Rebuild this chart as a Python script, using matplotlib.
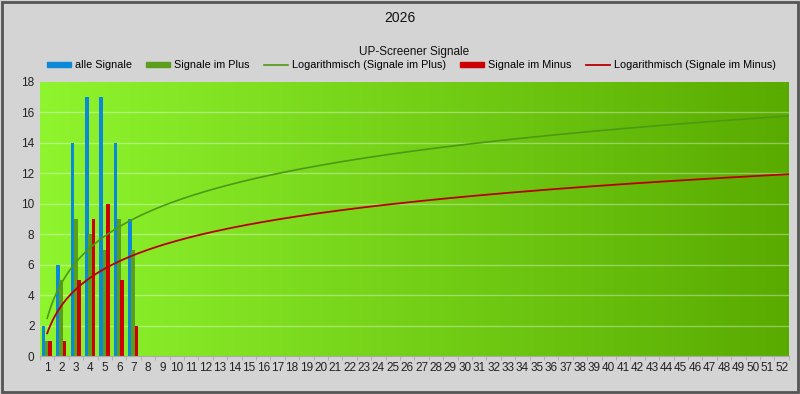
import numpy as np
import matplotlib
matplotlib.use("Agg")
import matplotlib.pyplot as plt
from matplotlib.patches import Rectangle, Patch
from matplotlib.lines import Line2D

# =============================
# Data
# =============================
weeks = np.arange(1, 53)
data_weeks = np.array([1, 2, 3, 4, 5, 6, 7])
alle = [2, 6, 14, 17, 17, 14, 9]
plus = [1, 5, 9, 8, 7, 9, 7]
minus = [1, 1, 5, 9, 10, 5, 2]

title = "2026"
subtitle = "UP-Screener Signale"

c_blue = "#0b88d6"
c_green = "#5a9e1c"
c_red = "#cc0000"
c_green_line = "#4c9a12"
c_red_line = "#b80000"

plt.rcParams['font.family'] = ['Liberation Sans', 'DejaVu Sans']

fig = plt.figure(figsize=(8, 3.94), dpi=100, facecolor="#d4d4d4")
ax = fig.add_axes([0.05, 0.096, 0.936, 0.696])

# gradient background
grad = np.linspace(0, 1, 256)
c0 = np.array([0.56, 0.96, 0.18])
c1 = np.array([0.35, 0.67, 0.0])
img = (c0[None, :] * (1 - grad[:, None]) + c1[None, :] * grad[:, None])[None, :, :]
ax.imshow(img, extent=[0.5, 52.5, 0, 18], aspect="auto", zorder=0)

for yv in range(2, 18, 2):
    ax.axhline(yv, color="white", alpha=0.35, lw=1, zorder=1)

w = 0.26
ax.bar(data_weeks - 0.25, alle, width=w, color=c_blue, zorder=2)
ax.bar(data_weeks - 0.02, plus, width=w, color=c_green, zorder=2)
ax.bar(data_weeks + 0.21, minus, width=w, color=c_red, zorder=2)

# logarithmic trendlines (least squares on ln(x), like Excel)
xs = np.linspace(1, 52.5, 400)
a_p, b_p = np.polyfit(np.log(data_weeks), plus, 1)
a_m, b_m = np.polyfit(np.log(data_weeks), minus, 1)
ax.plot(xs, a_p * np.log(xs) + b_p, color=c_green_line, lw=1.2, zorder=3)
ax.plot(xs, a_m * np.log(xs) + b_m, color=c_red_line, lw=1.3, zorder=3)

ax.set_xlim(0.5, 52.5)
ax.set_ylim(0, 18)
ax.set_yticks(range(0, 19, 2))
ax.set_xticks(weeks)
ax.set_xticklabels([str(k) for k in weeks])
ax.tick_params(axis="both", labelsize=8.5, colors="#222222", length=0, pad=4)
ax.set_xticks(np.arange(0.5, 53, 1), minor=True)
ax.tick_params(axis="x", which="minor", length=3, color="#aaaaaa")
for s in ax.spines.values():
    s.set_visible(False)
ax.spines["bottom"].set_visible(True)
ax.spines["bottom"].set_color("#aaaaaa")

fig.text(0.5, 0.955, title, ha="center", va="center", fontsize=10, color="#111111")
fig.text(0.517, 0.868, subtitle, ha="center", va="center", fontsize=8.5, color="#111111")

handles = [
    Patch(color=c_blue),
    Patch(color=c_green),
    Line2D([], [], color=c_green_line, lw=1.2),
    Patch(color=c_red),
    Line2D([], [], color=c_red_line, lw=1.3),
]
labels = ["alle Signale", "Signale im Plus", "Logarithmisch (Signale im Plus)",
          "Signale im Minus", "Logarithmisch (Signale im Minus)"]
fig.legend(handles, labels, loc="center", bbox_to_anchor=(0.514, 0.834), ncol=5,
           frameon=False, fontsize=7.8, handlelength=2.2, handleheight=0.45,
           handletextpad=0.35, columnspacing=1.35, borderaxespad=0)

# outer frame
fig.patches.append(Rectangle((0.002, 0.004), 0.996, 0.992, transform=fig.transFigure,
                             fill=False, edgecolor="#555555", lw=2))

fig.savefig("out.png", dpi=100, facecolor=fig.get_facecolor())
